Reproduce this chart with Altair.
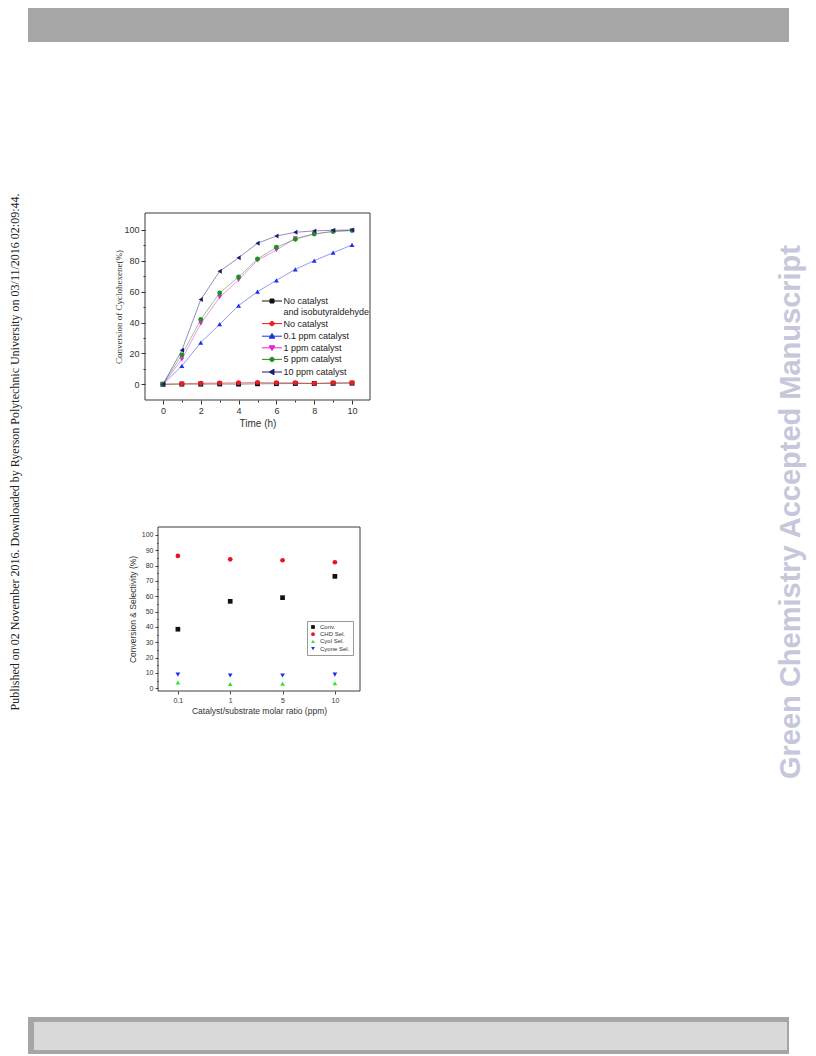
import json
import altair as alt
import pandas as pd

# ---------------- data: top chart (conversion vs time) ----------------
TIME_H = list(range(11))
SERIES = [
    "No catalyst and isobutyraldehyde",
    "No catalyst",
    "0.1 ppm catalyst",
    "1 ppm catalyst",
    "5 ppm catalyst",
    "10 ppm catalyst",
]
V_NONE_ISO = [0, 0.1, 0.1, 0.2, 0.1, 0.3, 0.4, 0.5, 0.5, 0.6, 0.7]
V_NONE = [0, 0.3, 0.7, 0.8, 1.0, 1.2, 1.0, 1.0, 0.5, 1.0, 1.0]
V_01 = [0, 11.9, 27.0, 38.9, 51.0, 60.0, 67.4, 74.5, 80.1, 85.3, 90.3]
V_1 = [0, 16.2, 39.3, 56.4, 67.6, 80.3, 87.0, 94.6, 97.4, 99.1, 99.8]
V_5 = [0, 19.0, 42.0, 59.2, 69.5, 81.2, 88.8, 94.0, 97.4, 99.0, 99.6]
V_10 = [0, 22.0, 54.9, 73.2, 82.0, 91.4, 96.1, 98.5, 99.4, 99.8, 100.0]
TOP_COLORS = ["#111111", "#ee1c1c", "#1f2ff0", "#e31ee3", "#1f8f1f", "#1c1c78"]
TOP_SHAPES = ["square", "circle", "triangle-up", "triangle-down", "circle", "triangle-left"]
TOP_X_MAJOR = [0, 2, 4, 6, 8, 10]
TOP_X_MINOR = [1, 3, 5, 7, 9]
TOP_Y_MAJOR = [0, 20, 40, 60, 80, 100]
TOP_Y_MINOR = [10, 30, 50, 70, 90]

# ---------------- data: bottom chart (conversion & selectivity) ----------------
RATIOS = ["0.1", "1", "5", "10"]
MEASURES = ["Conv.", "CHD Sel.", "Cyol Sel.", "Cyone Sel."]
CONV = [38.5, 56.7, 59.1, 73.0]
CHD = [86.3, 84.1, 83.5, 82.2]
CYOL = [3.7, 2.8, 3.0, 3.3]
CYONE = [8.9, 8.3, 8.3, 8.9]
BOT_COLORS = ["#111111", "#e8141e", "#2ee82e", "#1e2ee6"]
BOT_SHAPES = ["square", "circle", "triangle-up", "triangle-down"]
BOT_Y_MAJOR = list(range(0, 101, 10))
BOT_Y_MINOR = list(range(5, 100, 10))

# ---------------- layout ----------------
W, H = 800, 1046
TOP_XD, TOP_XR = [-0.95, 10.95], [137, 362]
TOP_YD, TOP_YR = [-10.2, 111], [392, 205]
BOT_XD, BOT_XR = [-0.38, 3.48], [150, 352]
BOT_YD, BOT_YR = [-1.8, 105.2], [683, 519]

SANS = "Liberation Sans"
SERIF = "Liberation Serif"

top_rows = []
for name, vals in zip(SERIES, [V_NONE_ISO, V_NONE, V_01, V_1, V_5, V_10]):
    for t, v in zip(TIME_H, vals):
        top_rows.append({"t": t, "v": v, "series": name})
top_df = pd.DataFrame(top_rows)

bot_rows = []
for name, vals in zip(MEASURES, [CONV, CHD, CYOL, CYONE]):
    for i, v in enumerate(vals):
        bot_rows.append({"idx": i, "ratio": RATIOS[i], "v": v, "measure": name})
bot_df = pd.DataFrame(bot_rows)

decor = pd.DataFrame({"k": [0]})


def minor_axis(orient, offset, values, size, color):
    return alt.Axis(orient=orient, offset=offset, values=values, labels=False,
                    tickSize=size, domain=False, grid=False, title=None, tickColor=color)


# ---------------- top chart ----------------
txs = alt.Scale(domain=TOP_XD, range=TOP_XR, nice=False, zero=False)
tys = alt.Scale(domain=TOP_YD, range=TOP_YR, nice=False, zero=False)
tcs = alt.Scale(domain=SERIES, range=TOP_COLORS)

top_frame = alt.Chart(pd.DataFrame({"x0": [TOP_XD[0]], "x1": [TOP_XD[1]],
                                    "y0": [TOP_YD[0]], "y1": [TOP_YD[1]]})).mark_rect(
    filled=False, color="#3a3a3a", strokeWidth=1
).encode(
    x=alt.X("x0:Q", scale=txs, axis=None), x2="x1:Q",
    y=alt.Y("y0:Q", scale=tys, axis=None), y2="y1:Q",
)

top_lines = alt.Chart(top_df).mark_line(strokeWidth=0.9, opacity=0.55).encode(
    x=alt.X("t:Q", scale=txs, axis=minor_axis("bottom", TOP_YR[0] - H, TOP_X_MINOR, 2, "#333")),
    y=alt.Y("v:Q", scale=tys, axis=minor_axis("left", -TOP_XR[0], TOP_Y_MINOR, 2, "#333")),
    color=alt.Color("series:N", scale=tcs, legend=None),
    order="t:Q",
)

top_points = alt.Chart(top_df).mark_point(filled=True, size=24, opacity=1).encode(
    x=alt.X("t:Q", scale=txs, axis=alt.Axis(
        orient="bottom", offset=TOP_YR[0] - H, values=TOP_X_MAJOR,
        tickSize=4, domain=False, grid=False, tickColor="#333", labelColor="#333",
        labelFont=SANS, labelFontSize=9, labelPadding=2,
        title="Time (h)", titleFont=SANS, titleFontSize=10, titleFontWeight="normal",
        titleColor="#333", titlePadding=3,
    )),
    y=alt.Y("v:Q", scale=tys, axis=alt.Axis(
        orient="left", offset=-TOP_XR[0], values=TOP_Y_MAJOR,
        tickSize=4, domain=False, grid=False, tickColor="#333", labelColor="#333",
        labelFont=SANS, labelFontSize=9, labelPadding=2,
        title="Conversion of Cyclohexene(%)", titleFont=SERIF, titleFontSize=9,
        titleFontWeight="normal", titleColor="#333", titlePadding=0,
    )),
    color=alt.Color("series:N", scale=tcs, legend=None),
    shape=alt.Shape("series:N", scale=alt.Scale(domain=SERIES, range=TOP_SHAPES), legend=None),
)

LINE = "M-2.5,0H2.5"
LEGEND_PATHS = [
    LINE + "M-0.5,-0.5H0.5V0.5H-0.5Z",
    LINE + "M0.55,0A0.55,0.55,0,1,1,-0.55,0A0.55,0.55,0,1,1,0.55,0Z",
    LINE + "M0,-0.7L0.7,0.5L-0.7,0.5Z",
    LINE + "M0,0.7L0.7,-0.5L-0.7,-0.5Z",
    LINE + "M0.55,0A0.55,0.55,0,1,1,-0.55,0A0.55,0.55,0,1,1,0.55,0Z",
    LINE + "M-0.7,0L0.5,-0.7L0.5,0.7Z",
]
TOP_LEGEND = dict(
    title=None, orient="none", legendX=259.5, legendY=288.5, padding=0,
    labelFont=SANS, labelFontSize=9, labelColor="#222", labelOffset=7,
    symbolSize=64, symbolStrokeWidth=1, symbolOpacity=1, rowPadding=1.6,
    labelLimit=200,
    labelExpr="datum.label == 'No catalyst and isobutyraldehyde' ? ['No catalyst', 'and isobutyraldehyde'] : datum.label",
)
top_legend_layer = alt.Chart(top_df).mark_point(filled=True, size=64, opacity=0).encode(
    x=alt.X("t:Q", scale=txs, axis=None),
    y=alt.Y("v:Q", scale=tys, axis=None),
    color=alt.Color("series:N", scale=tcs, legend=alt.Legend(**TOP_LEGEND)),
    stroke=alt.Stroke("series:N", scale=alt.Scale(domain=SERIES, range=TOP_COLORS),
                      legend=alt.Legend(**TOP_LEGEND)),
    shape=alt.Shape("series:N", scale=alt.Scale(domain=SERIES, range=LEGEND_PATHS),
                    legend=alt.Legend(**TOP_LEGEND)),
)

top_chart = alt.layer(top_frame, top_lines, top_points, top_legend_layer).resolve_scale(
    color="independent", shape="independent", stroke="independent"
).resolve_axis(x="independent", y="independent")

# ---------------- bottom chart ----------------
bxs = alt.Scale(domain=BOT_XD, range=BOT_XR, nice=False, zero=False)
bys = alt.Scale(domain=BOT_YD, range=BOT_YR, nice=False, zero=False)

bot_frame = alt.Chart(pd.DataFrame({"x0": [BOT_XD[0]], "x1": [BOT_XD[1]],
                                    "y0": [BOT_YD[0]], "y1": [BOT_YD[1]]})).mark_rect(
    filled=False, color="#3a3a3a", strokeWidth=1
).encode(
    x=alt.X("x0:Q", scale=bxs, axis=None), x2="x1:Q",
    y=alt.Y("y0:Q", scale=bys, axis=minor_axis("left", -BOT_XR[0], BOT_Y_MINOR, 1.5, "#444")),
    y2="y1:Q",
)

BOT_LEGEND = dict(title=None, orient="none", legendX=299, legendY=613,
                  padding=3, strokeColor="#999", fillColor="white",
                  labelFont=SANS, labelFontSize=6, labelColor="#333",
                  symbolSize=14, rowPadding=1.2, labelOffset=4)

bot_points = alt.Chart(bot_df).mark_point(filled=True, size=22, opacity=1).encode(
    x=alt.X("idx:Q", scale=bxs, axis=alt.Axis(
        orient="bottom", offset=BOT_YR[0] - H, values=list(range(len(RATIOS))),
        labelExpr=json.dumps(RATIOS) + "[datum.value]",
        tickSize=3, domain=False, grid=False, tickColor="#444", labelColor="#333",
        labelFont=SANS, labelFontSize=7, labelPadding=2,
        title="Catalyst/substrate molar ratio (ppm)", titleFont=SANS, titleFontSize=8.5,
        titleFontWeight="normal", titleColor="#333", titlePadding=3,
    )),
    y=alt.Y("v:Q", scale=bys, axis=alt.Axis(
        orient="left", offset=-BOT_XR[0], values=BOT_Y_MAJOR,
        tickSize=3, domain=False, grid=False, tickColor="#444", labelColor="#333",
        labelFont=SANS, labelFontSize=7, labelPadding=2,
        title="Conversion & Selectivity (%)", titleFont=SANS, titleFontSize=8.5,
        titleFontWeight="normal", titleColor="#333", titlePadding=4,
    )),
    color=alt.Color("measure:N", scale=alt.Scale(domain=MEASURES, range=BOT_COLORS),
                    legend=alt.Legend(**BOT_LEGEND)),
    shape=alt.Shape("measure:N", scale=alt.Scale(domain=MEASURES, range=BOT_SHAPES),
                    legend=alt.Legend(**BOT_LEGEND)),
)

bot_chart = alt.layer(bot_frame, bot_points).resolve_axis(x="independent", y="independent")

# ---------------- page furniture ----------------
header = alt.Chart(decor).mark_rect(color="#a6a6a6").encode(
    x=alt.value(20), x2=alt.value(781), y=alt.value(0), y2=alt.value(34))
footer_outer = alt.Chart(decor).mark_rect(color="#a6a6a6").encode(
    x=alt.value(20), x2=alt.value(781), y=alt.value(1009), y2=alt.value(1046))
footer_inner = alt.Chart(decor).mark_rect(color="#d9d9d9").encode(
    x=alt.value(26), x2=alt.value(779), y=alt.value(1014), y2=alt.value(1042))
left_text = alt.Chart(decor).mark_text(
    angle=270, font=SERIF, fontSize=12, color="#222", align="center", baseline="middle"
).encode(x=alt.value(7), y=alt.value(444), text=alt.value(
    "Published on 02 November 2016. Downloaded by Ryerson Polytechnic University on 03/11/2016 02:09:44."))
right_text = alt.Chart(decor).mark_text(
    angle=270, font=SANS, fontSize=29, fontWeight="bold", color="#c6c7da",
    align="center", baseline="middle"
).encode(x=alt.value(783), y=alt.value(504), text=alt.value("Green Chemistry Accepted Manuscript"))

chart = alt.layer(
    header, footer_outer, footer_inner, left_text, right_text, top_chart, bot_chart
).resolve_scale(
    x="independent", y="independent", color="independent", shape="independent", stroke="independent"
).resolve_axis(
    x="independent", y="independent"
).properties(
    width=W, height=H, autosize="none", padding=0, background="white"
).configure_view(strokeWidth=0, stroke="transparent")

chart.save("out.html", embed_options={"renderer": "svg", "actions": False})
